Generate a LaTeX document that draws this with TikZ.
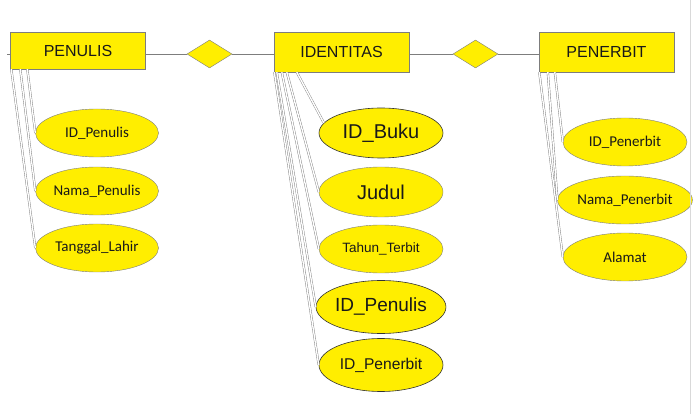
\documentclass[tikz,border=0pt]{standalone}
\usepackage{fontspec}
\setmainfont{Liberation Sans}
\newfontfamily\attrfont{Carlito}
\usetikzlibrary{shapes.geometric}
\definecolor{erYellow}{RGB}{255,238,0}
\definecolor{erGrey}{RGB}{125,125,125}

\begin{document}
\begin{tikzpicture}[x=1pt, y=-1pt,
  entity/.style={rectangle, draw=erGrey, fill=erYellow, minimum width=135pt, minimum height=40pt, inner sep=0pt, text=black!90, font=\fontsize{16}{18}\selectfont},
  relation/.style={diamond, draw=erGrey, fill=erYellow, minimum width=45pt, minimum height=28pt, inner sep=0pt},
  attr/.style={ellipse, draw=erGrey, fill=erYellow, minimum width=123pt, minimum height=48pt, inner sep=0pt, text=black!90, font=\attrfont\fontsize{15}{17}\selectfont},
  midattr/.style={attr, minimum width=124pt, font=\fontsize{20}{22}\selectfont},
  keyattr/.style={midattr, draw=black!80, line width=0.6pt},
  link/.style={draw=erGrey, line width=0.4pt, double=white, double distance=1.4pt},
  relline/.style={draw=erGrey, line width=0.6pt}]
\useasboundingbox (0,0) rectangle (694,414);

% Entities and relations
\node[entity, minimum height=37pt] (penulis) at (78,50.5) {PENULIS};
\node[relation] (rel1) at (209.5,54) {};
\node[entity] (identitas) at (341.5,52) {IDENTITAS};
\node[relation] (rel2) at (475.5,54) {};
\node[entity] (penerbit) at (606.5,52) {PENERBIT};

% Attributes of PENULIS
\node[attr] (idPenulis) at (97,133) {ID\_Penulis};
\node[attr] (namaPenulis) at (97,191) {Nama\_Penulis};
\node[attr] (tglLahir) at (97,248) {Tanggal\_Lahir};

% Attributes of IDENTITAS
\node[keyattr, minimum height=50pt] (idBuku) at (381,133) {ID\_Buku};
\node[midattr, minimum height=50pt] (judul) at (381,192) {Judul};
\node[midattr, font=\fontsize{13.5}{15}\selectfont] (tahun) at (381,249) {Tahun\_Terbit};
\node[keyattr, minimum height=53pt, font=\fontsize{19}{21}\selectfont] (fkPenulis) at (381,307) {ID\_Penulis};
\node[keyattr, minimum height=53pt, font=\fontsize{15.6}{17}\selectfont] (fkPenerbit) at (381,365) {ID\_Penerbit};

% Attributes of PENERBIT
\node[attr, minimum width=124pt] (idPenerbit) at (625,142) {ID\_Penerbit};
\node[attr, minimum width=124pt] (namaPenerbit) at (625,200) {Nama\_Penerbit};
\node[attr, minimum width=124pt] (alamat) at (625,257) {Alamat};

% Relation lines
\coordinate (stub) at (7,54);
\draw[relline] (stub) -- (penulis.west |- stub);
\draw[relline] (penulis.east |- rel1) -- (rel1.west);
\draw[relline] (rel1.east) -- (identitas.west |- rel1);
\draw[relline] (identitas.east |- rel2) -- (rel2.west);
\draw[relline] (rel2.east) -- (penerbit.west |- rel2);

% Attribute lines
\draw[link] ([xshift=1pt]penulis.south west) -- (tglLahir.west);
\draw[link] ([xshift=10pt]penulis.south west) -- (namaPenulis.west);
\draw[link] ([xshift=17pt]penulis.south west) -- (idPenulis.west);

\draw[link] ([xshift=0.5pt]identitas.south west) -- (fkPenerbit.west);
\draw[link] ([xshift=3pt]identitas.south west) -- (fkPenulis.west);
\draw[link] ([xshift=8pt]identitas.south west) -- (tahun.west);
\draw[link] ([xshift=13pt]identitas.south west) -- (judul.west);
\draw[link] ([xshift=23pt]identitas.south west) -- (idBuku.170);

\draw[link] ([xshift=0.5pt]penerbit.south west) -- (alamat.west);
\draw[link] ([xshift=9pt]penerbit.south west) -- (namaPenerbit.west);
\draw[link] ([xshift=16pt]penerbit.south west) -- (idPenerbit.west);

% Right edge
\coordinate (edgeTop) at (690,0);
\coordinate (edgeBot) at (690,414);
\draw[black!15] (edgeTop) -- (edgeBot);
\end{tikzpicture}
\end{document}
